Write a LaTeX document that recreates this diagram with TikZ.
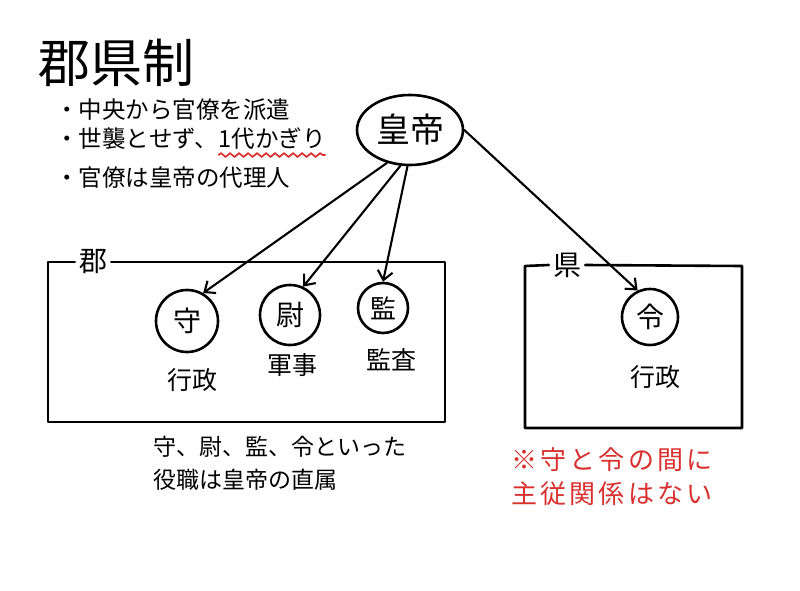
\documentclass[tikz,border=0pt]{standalone}
\usepackage{fontspec}
\setmainfont{Noto Sans CJK JP}
\usetikzlibrary{arrows.meta,shapes.geometric,decorations.pathmorphing}
\definecolor{inkred}{HTML}{D93030}
\begin{document}
\begin{tikzpicture}[x=1pt,y=-1pt,
  ink/.style={line width=2.6pt,line cap=round,line join=round},
  arr/.style={line width=2.1pt,line cap=round,-{Straight Barb[length=9pt,width=15pt,line width=2.1pt]}},
  office/.style={circle,draw,ink,inner sep=0pt,font=\fontsize{28}{28}\selectfont},
  duty/.style={inner sep=0pt,font=\fontsize{25}{25}\selectfont},
  txt/.style={inner sep=0pt,font=\fontsize{23.5}{23.5}\selectfont},
  boxlabel/.style={inner sep=4pt,font=\fontsize{28}{28}\selectfont},
]
\useasboundingbox[fill=white] (0,0) rectangle (800,591);

% title and bullets
\node[inner sep=0pt,anchor=west,font=\fontsize{52}{52}\selectfont] (title) at (38,63) {郡県制};
\node[txt,anchor=west] (b1) at (55,110) {・中央から官僚を派遣};
\node[txt,anchor=west] (b2a) at (55,139) {・世襲とせず、};
\node[txt,anchor=west] (b2b) at (b2a.east) {1代かぎり};
\node[txt,anchor=west] (b3) at (55,178) {・官僚は皇帝の代理人};
\draw[inkred,line width=1.7pt,decorate,decoration={snake,amplitude=1.8pt,segment length=9pt}]
  ([yshift=-5pt]b2b.south west) -- ([yshift=-5pt]b2b.south east);

% emperor
\node[ellipse,draw,ink,minimum width=106pt,minimum height=70pt,inner sep=0pt,
      font=\fontsize{34}{34}\selectfont] (emp) at (410,130) {皇帝};

% 郡 box
\node[boxlabel] (gun) at (93,262) {郡};
\draw[ink] (gun.east) -- (445,262) -- (445,422) -- (48,422) -- (48,262) -- (gun.west);
\node[office,minimum size=62pt] (shou) at (187,321) {守};
\node[office,minimum size=60pt] (wei) at (290,315) {尉};
\node[office,minimum size=50pt,font=\fontsize{26}{26}\selectfont] (jian) at (383,308) {監};
\node[duty] (d1) at (192,380) {行政};
\node[duty] (d2) at (292,365) {軍事};
\node[duty] (d3) at (391,360) {監査};

% 県 box
\node[boxlabel] (ken) at (567,265) {県};
\draw[ink] (ken.east) -- (742,266) -- (742,428) -- (525,428) -- (525,266) -- (ken.west);
\node[office,minimum size=56pt] (lei) at (650,317) {令};
\node[duty] (d4) at (655,377) {行政};

% arrows
\draw[arr] (emp.235) -- (shou.60);
\draw[arr] (emp.255) -- (wei.65);
\draw[arr] (emp.266) -- (jian.north);
\draw[arr] (emp.east) -- (lei.115);

% notes
\node[inner sep=0pt,anchor=north west,align=left,font=\fontsize{23}{33}\selectfont] (note) at (153,436)
  {守、尉、監、令といった\\役職は皇帝の直属};
\node[inner sep=0pt,align=center,text=inkred,font=\fontsize{26}{34}\selectfont\addfontfeatures{LetterSpace=12}] (rednote) at (612,477)
  {※守と令の間に\\主従関係はない};
\end{tikzpicture}
\end{document}
